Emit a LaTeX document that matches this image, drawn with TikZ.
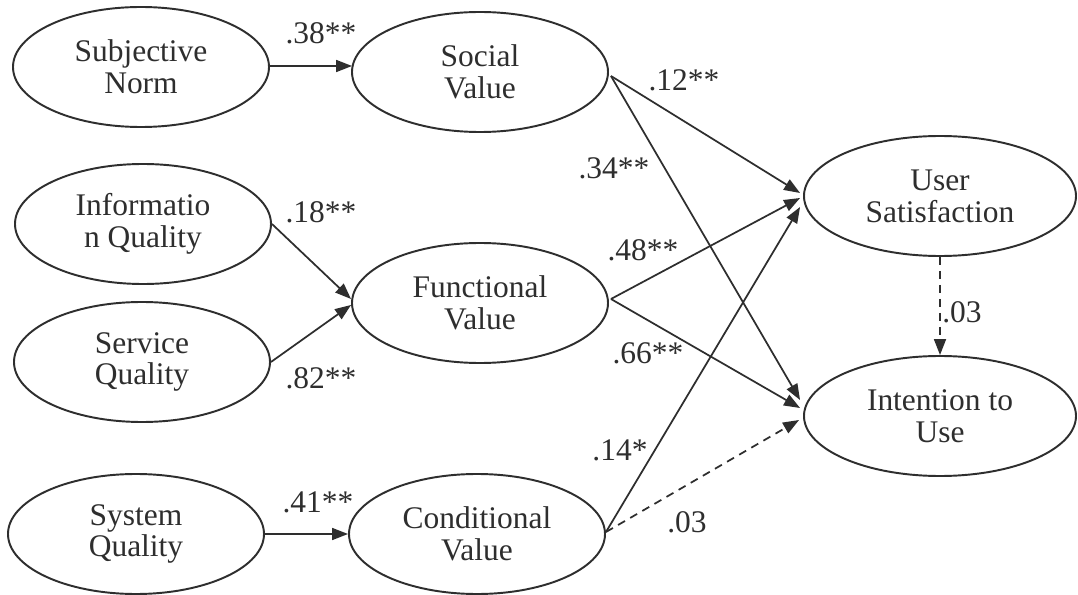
\documentclass[tikz,border=0pt]{standalone}
\usepackage{fontspec}
\setmainfont{Liberation Serif}
\usetikzlibrary{shapes.geometric,arrows.meta,calc}
\definecolor{ink}{HTML}{2E2E2E}
\begin{document}
\begin{tikzpicture}[x=0.75pt,y=-0.75pt,
  lat/.style={ellipse,draw=ink,line width=1.45pt,minimum width=192pt,minimum height=90pt,
    inner sep=0pt,align=center,text=ink,font=\fontsize{23.6}{23.8}\selectfont},
  wide/.style={minimum width=204pt},
  conn/.style={draw=ink,line width=1.3pt,-{Triangle[length=12pt,width=9pt]}},
  dconn/.style={conn,dash pattern=on 6pt off 4.5pt},
  lbl/.style={text=ink,inner sep=0pt,font=\fontsize{23.6}{23.8}\selectfont}]
\fill[white] (0,0) rectangle (1078,595);
\useasboundingbox (0,0) rectangle (1078,595);

% latent variables
\node[lat] (SN)   at (141,67)  {Subjective\\Norm};
\node[lat] (SV)   at (480,72)  {Social\\Value};
\node[lat] (IQ)   at (143,224) {Informatio\\n Quality};
\node[lat] (FV)   at (480,303) {Functional\\Value};
\node[lat] (SQ)   at (142,362) {Service\\Quality};
\node[lat] (SysQ) at (136,534) {System\\Quality};
\node[lat] (CV)   at (477,534) {Conditional\\Value};
\node[lat,wide] (US)  at (940,196) {User\\Satisfaction};
\node[lat,wide] (ITU) at (940,416) {Intention to\\Use};

% antecedent paths
\draw[conn] ($(SN.east)+(0,-1)$) -- ($(SN.east -| SV.west)+(1,-1)$);
\draw[conn] (IQ.east) -- ($(FV.west)+(0,-4)$);
\draw[conn] (SQ.east) -- ($(FV.west)+(0,2)$);
\draw[conn] (SysQ.east) -- (CV.west);

% value -> outcome paths
\draw[conn] ($(SV.east)+(2,4)$) -- ($(US.west)+(-3,-3)$);
\draw[conn] ($(SV.east)+(2,4)$) -- ($(ITU.west)+(-3,-16)$);
\draw[conn] ($(FV.east)+(2,-4)$) -- ($(US.west)+(-3,2)$);
\draw[conn] ($(FV.east)+(2,-4)$) -- ($(ITU.west)+(-3,-8)$);
\draw[conn] ($(CV.east)+(0,-2)$) -- ($(US.west)+(-3,11)$);
\draw[dconn] ($(CV.east)+(0,-2)$) -- ($(ITU.west)+(-4,4)$);
\draw[dconn] (US.south) -- (ITU.north);

% coefficients
\node[lbl] (l38) at (321,33)  {.38**};
\node[lbl] (l18) at (321,212) {.18**};
\node[lbl] (l82) at (321,378) {.82**};
\node[lbl] (l41) at (318,502) {.41**};
\node[lbl] (l12) at (684,80)  {.12**};
\node[lbl] (l34) at (614,168) {.34**};
\node[lbl] (l48) at (643,250) {.48**};
\node[lbl] (l66) at (648,353) {.66**};
\node[lbl] (l14) at (620,450) {.14*};
\node[lbl] (l03a) at (687,522) {.03};
\node[lbl] (l03b) at (962,312) {.03};
\end{tikzpicture}
\end{document}
